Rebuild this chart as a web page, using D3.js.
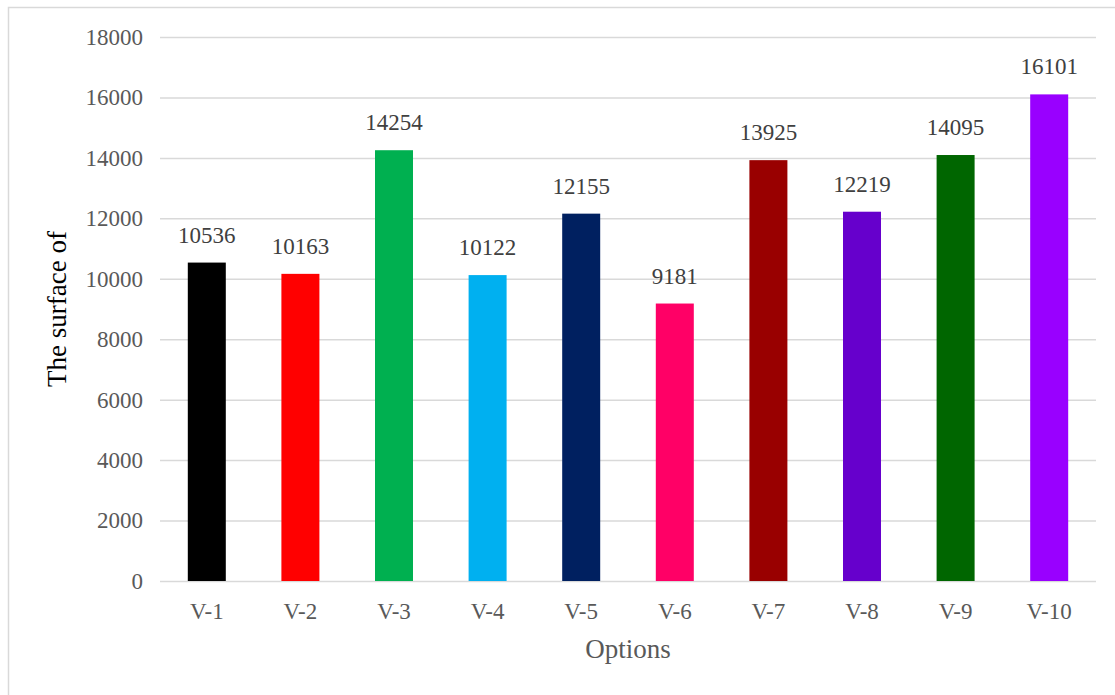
<!DOCTYPE html>
<html>
<head>
<meta charset="utf-8">
<script src="https://cdn.jsdelivr.net/npm/d3@7"></script>
<style>
  html, body { margin: 0; padding: 0; background: #fff; }
  svg { display: block; }
  text { font-family: "Liberation Serif", "Times New Roman", serif; }
</style>
</head>
<body>
<svg id="chart" width="1115" height="695"></svg>
<script>
// Chart data
const categories = ["V-1", "V-2", "V-3", "V-4", "V-5", "V-6", "V-7", "V-8", "V-9", "V-10"];
const values = [10536, 10163, 14254, 10122, 12155, 9181, 13925, 12219, 14095, 16101];
const barColors = ["#000000", "#FF0000", "#00B050", "#00B0F0", "#002060", "#FF0066", "#990000", "#6600CC", "#006600", "#9900FF"];
const yTicks = [0, 2000, 4000, 6000, 8000, 10000, 12000, 14000, 16000, 18000];
const xTitle = "Options";
const yTitle = "The surface of";

const svg = d3.select("#chart");
const W = 1115, H = 695;
const plot = { left: 160, right: 1096, top: 37, bottom: 581 };

// outer frame
svg.append("rect")
  .attr("x", 8.5).attr("y", 7.5)
  .attr("width", W + 20).attr("height", H + 20)
  .attr("fill", "none").attr("stroke", "#d9d9d9").attr("stroke-width", 1.5);

const x = d3.scaleBand()
  .domain(categories)
  .range([plot.left, plot.right])
  .paddingInner(0.594)
  .paddingOuter(0.297);

const y = d3.scaleLinear()
  .domain([0, 18000])
  .range([plot.bottom, plot.top]);

// gridlines + y tick labels
const yAxis = d3.axisLeft(y)
  .tickValues(yTicks)
  .tickSize(-(plot.right - plot.left))
  .tickPadding(17)
  .tickFormat(d3.format("d"));

const gy = svg.append("g")
  .attr("transform", `translate(${plot.left},0)`)
  .call(yAxis);
gy.select(".domain").remove();
gy.selectAll(".tick line").attr("stroke", "#d9d9d9").attr("stroke-width", 1.5);
gy.selectAll(".tick text")
  .attr("fill", "#595959")
  .style("font-size", "23px");

// bars
svg.append("g").selectAll("rect")
  .data(values)
  .join("rect")
  .attr("x", (d, i) => x(categories[i]))
  .attr("y", d => y(d))
  .attr("width", x.bandwidth())
  .attr("height", d => y(0) - y(d))
  .attr("fill", (d, i) => barColors[i]);

// value labels
svg.append("g").selectAll("text")
  .data(values)
  .join("text")
  .attr("x", (d, i) => x(categories[i]) + x.bandwidth() / 2)
  .attr("y", d => y(d) - 20)
  .attr("text-anchor", "middle")
  .attr("fill", "#404040")
  .style("font-size", "23px")
  .text(d => d);

// x axis labels
const xAxis = d3.axisBottom(x).tickSize(0).tickPadding(22);
const gx = svg.append("g")
  .attr("transform", `translate(0,${plot.bottom})`)
  .call(xAxis);
gx.select(".domain").remove();
gx.selectAll(".tick text")
  .attr("fill", "#595959")
  .style("font-size", "23px");

// axis titles
svg.append("text")
  .attr("x", (plot.left + plot.right) / 2)
  .attr("y", 658)
  .attr("text-anchor", "middle")
  .attr("fill", "#595959")
  .style("font-size", "27px")
  .text(xTitle);

svg.append("text")
  .attr("transform", `translate(66,${(plot.top + plot.bottom) / 2}) rotate(-90)`)
  .attr("text-anchor", "middle")
  .attr("fill", "#000000")
  .style("font-size", "27px")
  .text(yTitle);
</script>
</body>
</html>
